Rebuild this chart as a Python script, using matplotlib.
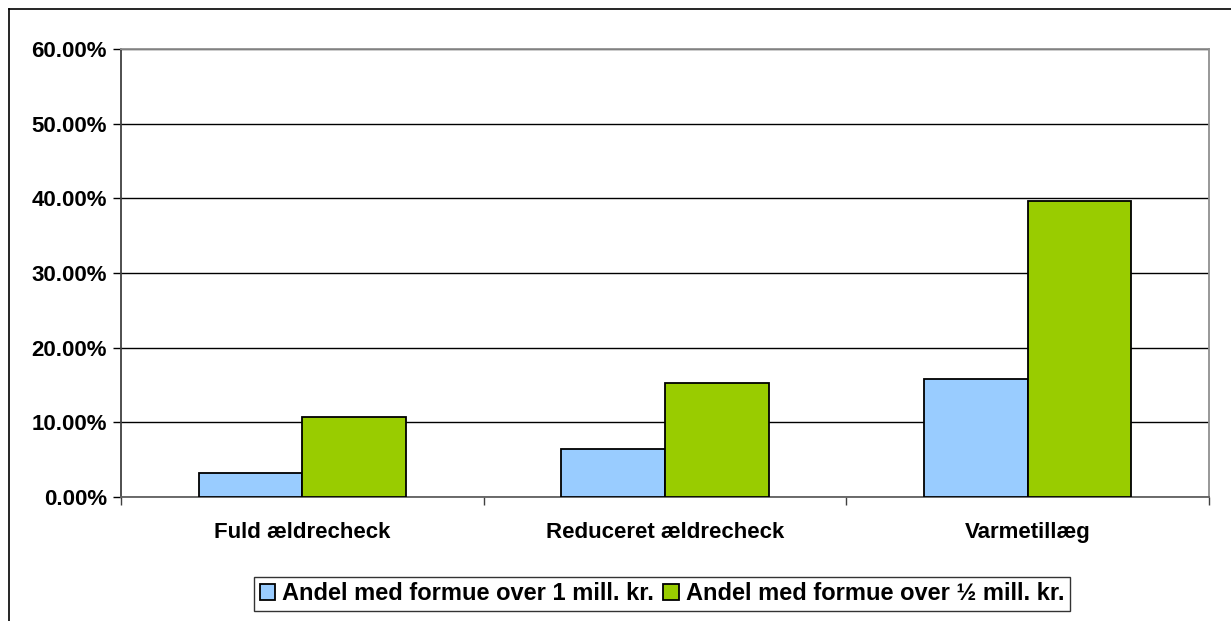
import numpy as np
import matplotlib
matplotlib.use("Agg")
from matplotlib import pyplot as plt
from matplotlib.lines import Line2D
from matplotlib.ticker import FuncFormatter

categories = ["Fuld ældrecheck", "Reduceret ældrecheck", "Varmetillæg"]
over_1_mill = [3.2, 6.4, 15.8]
over_half_mill = [10.7, 15.3, 39.6]
series_labels = ["Andel med formue over 1 mill. kr.", "Andel med formue over ½ mill. kr."]
y_ticks = [0, 10, 20, 30, 40, 50, 60]

plt.rcParams["font.family"] = ["Liberation Sans", "DejaVu Sans"]
plt.rcParams["font.weight"] = "bold"

fig = plt.figure(figsize=(12.31, 6.21), dpi=100)
ax = fig.add_axes([121 / 1231, 1 - 497 / 621, (1209 - 121) / 1231, (497 - 49) / 621])

x = np.arange(len(categories))
width = 1 / 3.5
ax.bar(x - width / 2, over_1_mill, width, color="#99CCFF", edgecolor="black",
       linewidth=1.3, label=series_labels[0], zorder=3)
ax.bar(x + width / 2, over_half_mill, width, color="#99CC00", edgecolor="black",
       linewidth=1.3, label=series_labels[1], zorder=3)

ax.set_xlim(-0.5, len(categories) - 0.5)
ax.set_ylim(0, 60)
ax.set_yticks(y_ticks)
ax.yaxis.set_major_formatter(FuncFormatter(lambda v, _: f"{v:.2f}%"))
ax.yaxis.grid(True, color="black", linewidth=1, zorder=0)

ax.set_xticks(x)
ax.set_xticklabels(categories, fontsize=16, fontweight="bold")
ax.set_xticks(np.arange(len(categories) + 1) - 0.5, minor=True)
ax.tick_params(axis="x", which="major", length=0, pad=18)
ax.tick_params(axis="x", which="minor", length=6, width=1, color="#404040")
ax.tick_params(axis="y", length=6, width=1, color="black", labelsize=16, pad=4)
for lbl in ax.get_yticklabels():
    lbl.set_fontweight("bold")

ax.spines["left"].set_color("#404040")
ax.spines["bottom"].set_color("#606060")
ax.spines["top"].set_color("#909090")
ax.spines["right"].set_color("#909090")
for s in ax.spines.values():
    s.set_linewidth(1.3)

# outer chart frame (top and left visible)
fig.add_artist(Line2D([9 / 1231, 1.0], [1 - 9 / 621, 1 - 9 / 621], color="black", linewidth=1.2))
fig.add_artist(Line2D([9 / 1231, 9 / 1231], [0, 1 - 9 / 621], color="black", linewidth=1.2))

leg = fig.legend(loc="center", bbox_to_anchor=(662 / 1231, 1 - 594 / 621), ncol=2,
                 frameon=True, fancybox=False, edgecolor="black", fontsize=17,
                 handlelength=0.65, handleheight=0.65, handletextpad=0.3,
                 columnspacing=0.4, borderpad=0.25, borderaxespad=0)
leg.get_frame().set_linewidth(1.0)
for t in leg.get_texts():
    t.set_fontweight("bold")

fig.savefig("out.png", dpi=100)
